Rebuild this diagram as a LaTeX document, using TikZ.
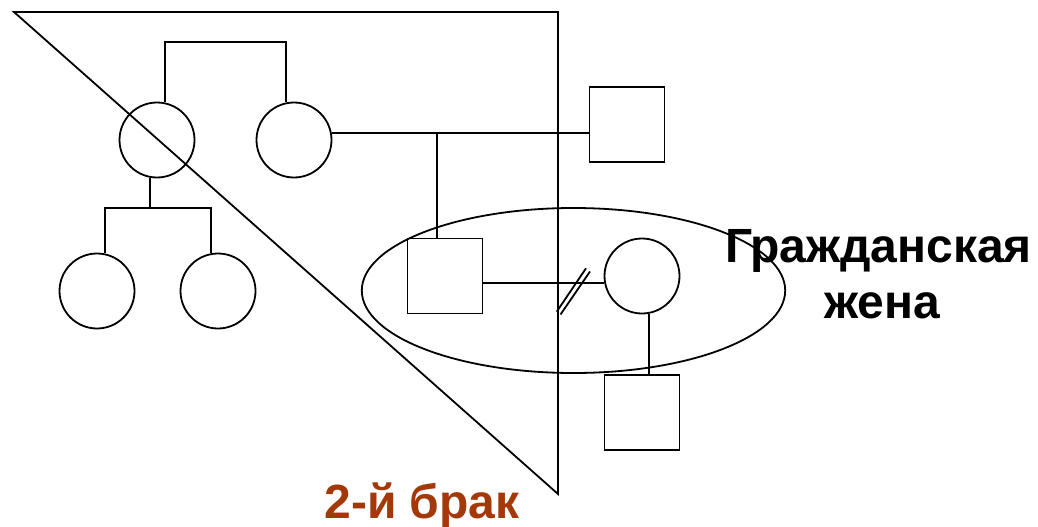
\documentclass[tikz,border=0pt]{standalone}
\usepackage{fontspec}
\setmainfont{Liberation Sans}
\definecolor{brak}{RGB}{163,57,8}
\tikzset{
  ln/.style={line width=1.8pt, black},
  fem/.style={circle, draw, ln, minimum size=75pt, inner sep=0pt},
  mal/.style={rectangle, draw, ln, minimum size=75pt, inner sep=0pt},
  lbl/.style={font=\bfseries\fontsize{48}{56}\selectfont, inner sep=0pt, anchor=base},
}
\begin{document}
\begin{tikzpicture}[x=1pt,y=-1pt]
\useasboundingbox[fill=white] (0,0) rectangle (1038,527);
% triangle of the second marriage
\draw[ln] (14,12) -- (558,12) -- (558,494) -- cycle;
% ellipse (civil marriage)
\draw[ln] (573.5,290.5) ellipse [x radius=211.7, y radius=82.5];
% persons
\node[fem] (gm) at (157,140) {};
\node[fem] (gf) at (294,140) {};
\node[fem] (c1) at (97,291) {};
\node[fem] (c2) at (218,291) {};
\node[mal] (sq1) at (627,124.5) {};
\node[mal] (sq2) at (445,276) {};
\node[fem] (w) at (642,276) {};
\node[mal] (sq3) at (642,412.5) {};
% helper coordinates
\coordinate (top) at (0,42);
\coordinate (sib) at (0,208);
\coordinate (dx) at (437,0);
% connectors
\draw[ln] (gm.78) -- (gm.78 |- top) -| (gf.102);
\draw[ln] (gf.11) -- (gf.11 -| sq1.west);
\draw[ln] (gf.11 -| dx) -- (dx |- sq2.north);
\draw[ln] (gm.-101) -- (gm.-101 |- sib);
\draw[ln] (c1.78) -- (c1.78 |- sib) -| (c2.101);
\draw[ln] (w.191 -| sq2.east) -- (w.191);
\draw[ln] (w.-79) -- (w.-79 |- sq3.north);
% divorce slashes
\draw[ln] (556.7,311.7) -- (586,268.3);
\draw[ln] (560.5,314.5) -- (590,271.5);
% labels
\node[lbl] (l1) at (878.5,262) {Гражданская};
\node[lbl] (l2) at (882,318) {жена};
\node[lbl, text=brak] (l3) at (422,518) {2-й брак};
\end{tikzpicture}
\end{document}
